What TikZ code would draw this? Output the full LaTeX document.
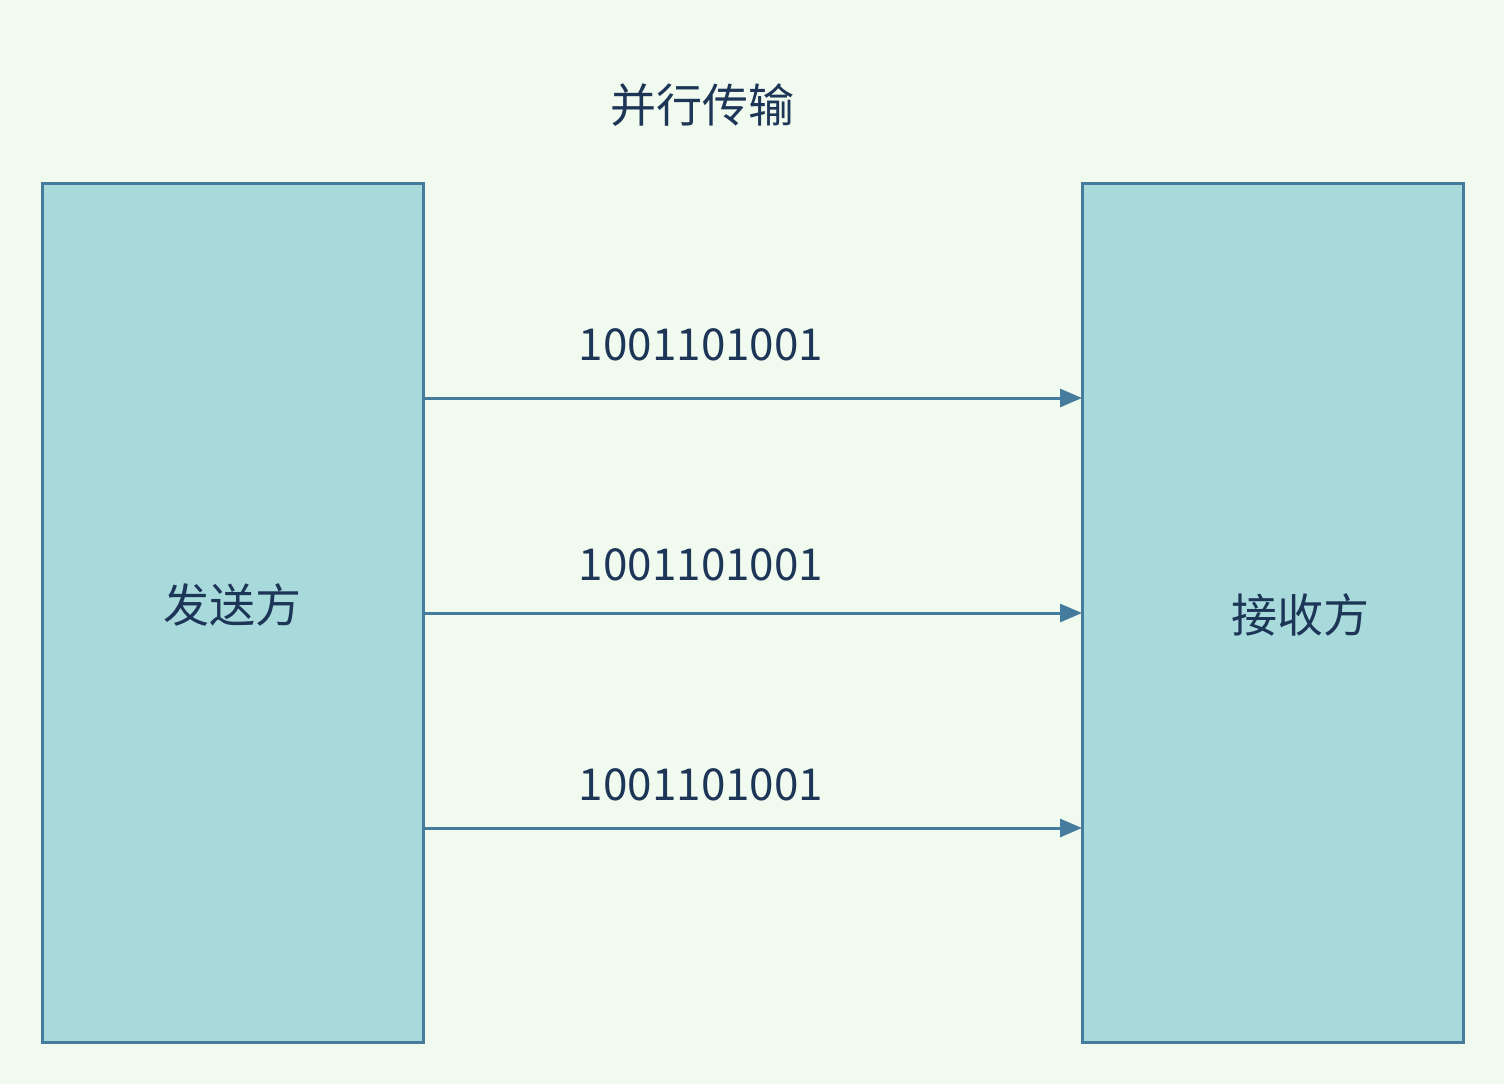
\documentclass[tikz,border=0pt]{standalone}
\usepackage{fontspec}
\setmainfont{Noto Sans CJK SC}
\definecolor{bg}{HTML}{F1FAEE}
\definecolor{boxfill}{HTML}{A8DADC}
\definecolor{stroke}{HTML}{457B9D}
\definecolor{txt}{HTML}{1D3557}
\usetikzlibrary{arrows.meta}
\begin{document}
\begin{tikzpicture}[x=1pt,y=-1pt,
  boxnode/.style={draw=stroke,fill=boxfill,line width=3pt,minimum width=381pt,minimum height=859pt,inner sep=0pt},
  lbl/.style={text=txt,font=\fontsize{46}{54}\selectfont},
  bits/.style={text=txt,font=\fontsize{44}{52}\selectfont},
  conn/.style={draw=stroke,line width=3pt,-{Triangle[length=22pt,width=18pt]}}]
\fill[bg] (0,0) rectangle (1504,1084);
\useasboundingbox (0,0) rectangle (1504,1084);
\node[lbl] (title) at (702,105) {并行传输};
\node[boxnode] (s) at (232.5,612.5) {};
\node[boxnode] (r) at (1272.5,612.5) {};
\node[lbl] (sl) at (232,605) {发送方};
\node[lbl] (rl) at (1300,615) {接收方};
\coordinate (a1) at (423,398); \coordinate (b1) at (1082,398);
\coordinate (a2) at (423,613); \coordinate (b2) at (1082,613);
\coordinate (a3) at (423,828); \coordinate (b3) at (1082,828);
\draw[conn] (a1) -- (b1);
\draw[conn] (a2) -- (b2);
\draw[conn] (a3) -- (b3);
\node[bits] (t1) at (701,345) {1001101001};
\node[bits] (t2) at (701,565) {1001101001};
\node[bits] (t3) at (701,785) {1001101001};
\end{tikzpicture}
\end{document}
